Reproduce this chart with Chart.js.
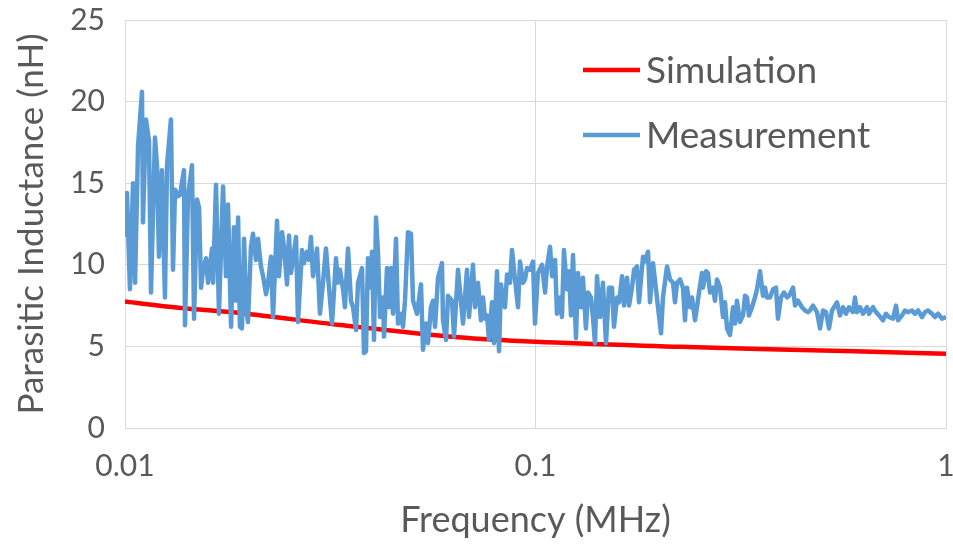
<!DOCTYPE html>
<html><head><meta charset="utf-8">
<script src="https://cdn.jsdelivr.net/npm/chart.js@4.4.0/dist/chart.umd.min.js"></script>
<style>html,body{margin:0;padding:0;background:#fff;overflow:hidden}#wrap{width:953px;height:544px}</style>
</head><body><div id="wrap"><canvas id="c" width="953" height="544"></canvas></div>
<script>
const xTickValues = [0.01, 0.1, 1];
const xTickLabels = ['0.01', '0.1', '1'];
const yTickValues = [0, 5, 10, 15, 20, 25];
const seriesNames = ['Simulation', 'Measurement'];
const axisTitles = ['Frequency (MHz)', 'Parasitic Inductance (nH)'];

const simFreq = [0.01, 0.0135, 0.019, 0.0334, 0.0648, 0.1, 0.2249, 0.35, 0.6, 1.0];
const simValue = [7.75, 7.37, 7.05, 6.31, 5.56, 5.28, 4.98, 4.84, 4.70, 4.55];

const measFreq = [
0.01000,0.01011,0.01028,0.01046,0.01058,0.01076,0.01100,0.01106,0.01125,0.01144,
0.01157,0.01183,0.01197,0.01210,0.01230,0.01251,0.01266,0.01294,0.01309,0.01324,
0.01346,0.01362,0.01392,0.01400,0.01424,0.01456,0.01473,0.01498,0.01515,0.01532,
0.01549,0.01575,0.01593,0.01629,0.01639,0.01666,0.01694,0.01733,0.01762,0.01782,
0.01813,0.01843,0.01864,0.01886,0.01905,0.01927,0.01950,0.01972,0.01993,0.02027,
0.02050,0.02085,0.02109,0.02144,0.02169,0.02206,0.02231,0.02268,0.02294,0.02346,
0.02372,0.02413,0.02440,0.02481,0.02509,0.02537,0.02566,0.02610,0.02639,0.02699,
0.02730,0.02776,0.02807,0.02838,0.02871,0.02936,0.02985,0.03036,0.03087,0.03140,
0.03194,0.03266,0.03303,0.03339,0.03397,0.03434,0.03493,0.03552,0.03593,0.03654,
0.03695,0.03779,0.03821,0.03864,0.03908,0.03975,0.03997,0.04042,0.04088,0.04134,
0.04181,0.04251,0.04275,0.04347,0.04396,0.04446,0.04497,0.04573,0.04624,0.04703,
0.04756,0.04809,0.04891,0.04974,0.05031,0.05088,0.05145,0.05261,0.05320,0.05410,
0.05471,0.05564,0.05627,0.05691,0.05787,0.05918,0.05952,0.06054,0.06122,0.06259,
0.06332,0.06475,0.06659,0.06809,0.06887,0.07042,0.07122,0.07242,0.07365,0.07449,
0.07534,0.07619,0.07704,0.07834,0.07923,0.08058,0.08149,0.08240,0.08333,0.08428,
0.08523,0.08668,0.08766,0.08915,0.09066,0.09167,0.09322,0.09428,0.09534,0.09697,
0.09861,0.0997,0.1014,0.1037,0.1055,0.1067,0.1085,0.1097,0.1116,0.1128,
0.1147,0.1160,0.1173,0.1193,0.1207,0.1220,0.1234,0.1255,0.1269,0.1290,
0.1305,0.1327,0.1342,0.1365,0.1380,0.1396,0.1412,0.1436,0.1460,0.1485,
0.1510,0.1536,0.1553,0.1580,0.1598,0.1625,0.1643,0.1671,0.1690,0.1718,
0.1738,0.1767,0.1787,0.1828,0.1848,0.1880,0.1901,0.1933,0.1966,0.1988,
0.2022,0.2044,0.2091,0.2127,0.2163,0.2187,0.2212,0.2249,0.2287,0.2313,
0.2339,0.2379,0.2406,0.2447,0.2474,0.2502,0.2544,0.2559,0.2602,0.2631,
0.2661,0.2707,0.2737,0.2768,0.2815,0.2863,0.2895,0.2928,0.2977,0.3028,
0.3062,0.3096,0.3149,0.3203,0.3239,0.3275,0.3311,0.3368,0.3425,0.3464,
0.3523,0.3583,0.3623,0.3664,0.3726,0.3790,0.3854,0.3896,0.3963,0.4030,
0.4099,0.4145,0.4240,0.4288,0.4360,0.4459,0.4535,0.4611,0.4663,0.4742,
0.4850,0.4933,0.5017,0.5101,0.5188,0.5276,0.5365,0.5426,0.5518,0.5611,
0.5706,0.5803,0.5934,0.6002,0.6071,0.6173,0.6278,0.6420,0.6492,0.6641,
0.6753,0.6868,0.7022,0.7141,0.7262,0.7428,0.7555,0.7640,0.7812,0.7945,
0.8080,0.8265,0.8403,0.8551,0.8740,0.8888,0.9040,0.9245,0.9402,0.9561,
0.9779,1.0
];
const measValue = [
11.7,14.4,8.5,15.0,8.9,17.3,20.6,12.6,18.9,17.6,
8.3,17.8,16.0,10.5,15.8,8.0,16.1,18.9,9.7,14.6,
14.2,14.3,15.8,6.3,14.2,16.1,6.7,14.0,13.5,8.6,
9.7,10.4,8.9,11.0,8.9,14.9,7.0,14.8,9.3,13.7,
6.2,12.3,7.8,12.9,6.2,6.1,11.6,7.4,6.5,11.1,
11.9,10.3,11.6,9.9,9.3,8.2,8.9,10.5,6.8,12.7,
9.3,12.0,11.1,8.8,11.8,9.5,10.3,11.7,6.5,10.9,
10.1,10.8,10.3,11.7,9.3,11.0,7.0,8.9,11.0,8.6,
6.4,10.4,8.9,9.7,8.5,7.4,11.0,7.8,7.4,6.0,
8.9,9.8,4.6,4.7,10.4,8.6,10.8,5.4,12.9,10.7,
6.8,8.0,5.6,9.8,7.4,9.8,7.0,11.6,6.4,7.0,
6.2,7.8,12.0,11.9,7.8,7.4,7.0,8.8,4.8,6.4,
5.2,7.4,7.8,6.2,9.2,10.1,6.6,5.4,8.1,7.8,
5.6,9.7,6.4,9.7,6.8,10.0,7.4,8.9,6.6,8.0,
6.7,6.9,5.4,7.7,5.2,9.6,4.7,8.8,7.8,7.4,
9.4,8.9,10.9,9.1,7.4,10.2,8.9,9.1,9.8,9.7,
10.2,6.4,9.5,10.0,8.3,9.9,11.1,9.3,10.3,7.0,
8.0,6.8,10.9,8.5,9.6,6.9,10.6,5.5,9.5,7.4,
9.2,6.1,8.3,8.0,6.8,5.2,9.3,6.8,8.9,5.2,
8.6,8.6,6.2,8.0,7.7,9.3,7.5,9.2,7.5,8.6,
9.7,9.9,7.7,10.5,10.2,10.8,7.7,10.1,8.5,7.4,
5.8,8.0,9.9,9.1,8.9,7.7,8.9,9.1,8.6,6.6,
8.6,7.4,8.0,6.6,7.4,8.3,9.5,8.6,9.6,9.5,
8.3,8.6,7.8,9.1,8.6,6.8,7.7,6.1,5.7,7.4,
6.4,7.8,6.5,6.9,8.1,8.0,6.9,7.4,8.0,8.5,
9.6,8.1,8.6,8.0,8.0,8.5,8.6,6.7,8.0,8.3,
8.0,8.1,8.6,7.5,7.8,7.4,7.2,7.1,7.2,7.5,
7.1,6.1,7.2,7.1,6.1,7.2,7.5,7.7,6.9,7.4,
7.0,7.4,7.1,8.0,7.1,7.4,7.0,7.4,7.0,7.4,
7.1,6.9,6.6,7.0,6.8,6.7,7.5,6.6,6.9,7.2,
7.1,7.2,7.0,7.2,6.8,7.1,7.2,7.0,6.8,7.0,
6.7,6.8
];

const FONT = 'Lato';
const TEXT = '#595959';
const GRID = '#D9D9D9';
const colors = ['#FF0000', '#5B9BD5'];

const legendPlugin = {
  id: 'insideLegend',
  afterDraw(chart) {
    const ctx = chart.ctx;
    const rows = [70, 135];
    ctx.save();
    seriesNames.forEach((name, i) => {
      ctx.strokeStyle = colors[i];
      ctx.lineWidth = 4.5;
      ctx.beginPath();
      ctx.moveTo(583, rows[i]);
      ctx.lineTo(640, rows[i]);
      ctx.stroke();
      ctx.fillStyle = TEXT;
      ctx.font = '37px ' + FONT;
      ctx.textAlign = 'left';
      ctx.textBaseline = 'middle';
      ctx.fillText(name, 646, rows[i] + 1);
    });
    ctx.restore();
  }
};

new Chart(document.getElementById('c'), {
  type: 'line',
  data: {
    datasets: [
      {
        label: seriesNames[1],
        data: measFreq.map((f, i) => ({x: f, y: measValue[i]})),
        borderColor: colors[1],
        borderWidth: 4.5,
        pointRadius: 0,
        tension: 0,
        fill: false,
        borderJoinStyle: 'round'
      },
      {
        label: seriesNames[0],
        data: simFreq.map((f, i) => ({x: f, y: simValue[i]})),
        borderColor: colors[0],
        borderWidth: 4.5,
        pointRadius: 0,
        cubicInterpolationMode: 'monotone',
        fill: false
      }
    ]
  },
  options: {
    responsive: false,
    animation: false,
    devicePixelRatio: 1,
    layout: {padding: {top: 20, right: 7, left: 0, bottom: 0}},
    plugins: {legend: {display: false}, tooltip: {enabled: false}},
    scales: {
      x: {
        type: 'logarithmic',
        min: 0.01,
        max: 1,
        afterBuildTicks: (axis) => { axis.ticks = xTickValues.map(v => ({value: v})); },
        afterFit: (s) => { s.height = 116; s.paddingLeft = 0; s.paddingRight = 0; },
        ticks: {
          autoSkip: false,
          maxRotation: 0,
          padding: 20,
          color: TEXT,
          font: {family: FONT, size: 30},
          callback: (v) => { const i = xTickValues.indexOf(v); return i >= 0 ? xTickLabels[i] : ''; }
        },
        grid: {color: GRID, lineWidth: 1, drawTicks: false},
        border: {color: GRID, width: 1},
        title: {display: true, text: axisTitles[0], color: TEXT, font: {family: FONT, size: 36}, padding: {top: 0, bottom: 2}}
      },
      y: {
        type: 'linear',
        min: 0,
        max: 25,
        afterBuildTicks: (axis) => { axis.ticks = yTickValues.map(v => ({value: v})); },
        afterFit: (s) => { s.width = 125; s.paddingTop = 0; s.paddingBottom = 0; },
        ticks: {
          padding: 20,
          color: TEXT,
          font: {family: FONT, size: 30},
          callback: (v) => String(v)
        },
        grid: {color: GRID, lineWidth: 1, drawTicks: false},
        border: {color: GRID, width: 1},
        title: {display: true, text: axisTitles[1], color: TEXT, font: {family: FONT, size: 35}, padding: {top: 11, bottom: 0}}
      }
    }
  },
  plugins: [legendPlugin]
});
</script>
</body></html>
